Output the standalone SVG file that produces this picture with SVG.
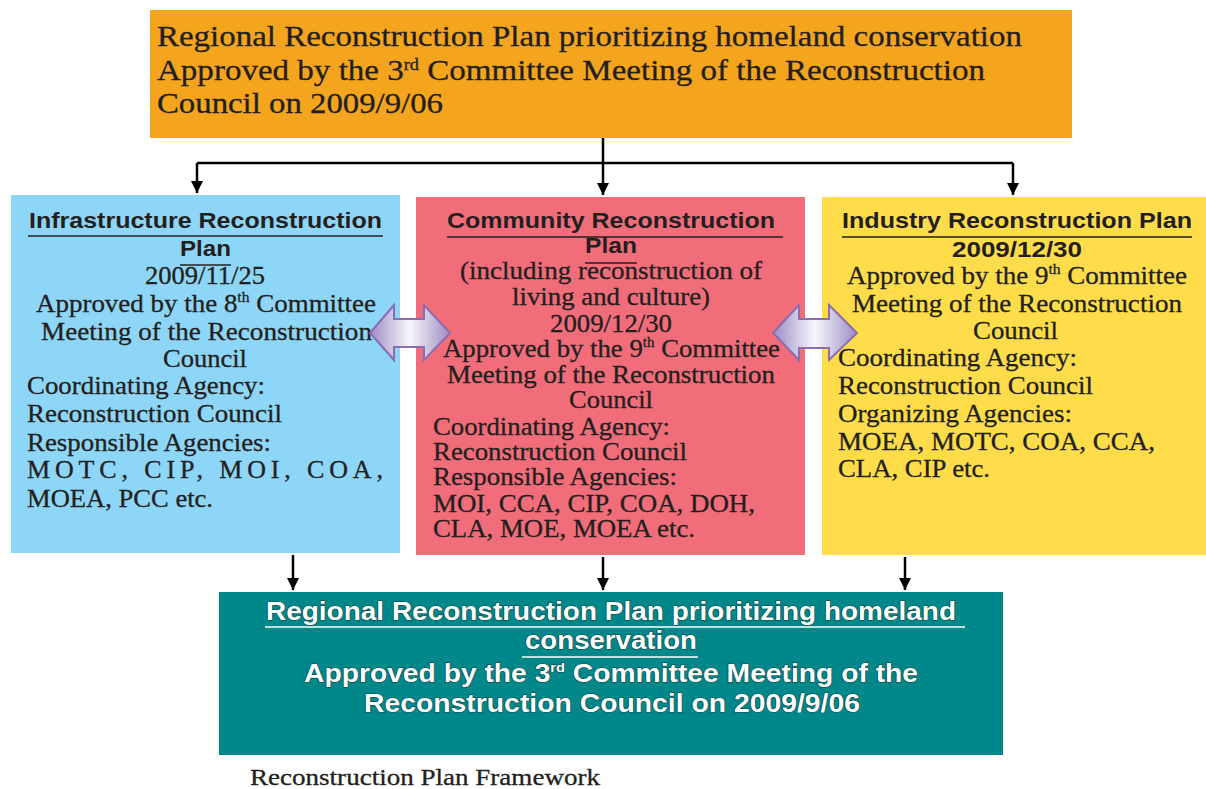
<svg xmlns="http://www.w3.org/2000/svg" width="1206" height="789" viewBox="0 0 1206 789">
  <style>
    .serif { font-family: "Liberation Serif", "Times New Roman", serif; fill: #231F20; stroke: #231F20; stroke-width: 0.3; }
    .sans { font-family: "Liberation Sans", Arial, sans-serif; font-weight: bold; fill: #231F20; }
    .body { font-size: 26px; }
    .tight { font-size: 25px; }
    .head { font-size: 22px; }
    .mid { text-anchor: middle; }
    .white { fill: #FFFFFF; stroke: #124546; stroke-width: 1.2; paint-order: stroke; }
    .ul { stroke: #231F20; stroke-width: 1.5; }
    .ulw { stroke: #FFFFFF; stroke-width: 1.5; }
    .conn { stroke: #000000; stroke-width: 2.5; fill: none; }
    .dbl { fill: url(#lav); stroke: #8A6DB0; stroke-width: 2; stroke-linejoin: miter; }
  </style>
  <defs>
    <marker id="tri" viewBox="0 0 10 10" refX="10" refY="5" markerWidth="5" markerHeight="5" orient="auto" markerUnits="strokeWidth">
      <path d="M0,0 L10,5 L0,10 Z" fill="#000000"/>
    </marker>
    <linearGradient id="lav" x1="0" y1="0" x2="1" y2="0">
      <stop offset="0" stop-color="#9C8CC4"/>
      <stop offset="0.5" stop-color="#F8F6FB"/>
      <stop offset="1" stop-color="#9C8CC4"/>
    </linearGradient>
  </defs>

  <rect width="1206" height="789" fill="#FFFFFF"/>

  <!-- top: regional plan -->
  <g id="regional-top">
    <rect x="150" y="10" width="922" height="128" fill="#F5A41D"/>
    <text class="serif" font-size="29" x="157" y="46" textLength="865" lengthAdjust="spacingAndGlyphs">Regional Reconstruction Plan prioritizing homeland conservation</text>
    <text class="serif" font-size="29" x="157" y="80" textLength="828" lengthAdjust="spacingAndGlyphs">Approved by the 3<tspan font-size="16" baseline-shift="60%">rd</tspan> Committee Meeting of the Reconstruction</text>
    <text class="serif" font-size="29" x="157" y="113" textLength="286" lengthAdjust="spacingAndGlyphs">Council on 2009/9/06</text>
  </g>

  <!-- left: infrastructure -->
  <g id="infrastructure">
    <rect x="11" y="195" width="389" height="358" fill="#8ED6F7"/>
    <text class="sans head" x="29" y="228" textLength="353" lengthAdjust="spacingAndGlyphs">Infrastructure Reconstruction</text>
    <line class="ul" x1="28" y1="236" x2="383" y2="236"/>
    <text class="sans head" x="180" y="256" textLength="51" lengthAdjust="spacingAndGlyphs">Plan</text>
    <line class="ul" x1="180" y1="265" x2="231" y2="265"/>
    <text class="serif body" x="145" y="284" textLength="120" lengthAdjust="spacingAndGlyphs">2009/11/25</text>
    <text class="serif body" x="36" y="312" textLength="340" lengthAdjust="spacingAndGlyphs">Approved by the 8<tspan font-size="15" baseline-shift="70%">th</tspan> Committee</text>
    <text class="serif body" x="41" y="340" textLength="331" lengthAdjust="spacingAndGlyphs">Meeting of the Reconstruction</text>
    <text class="serif body" x="163" y="367" textLength="84" lengthAdjust="spacingAndGlyphs">Council</text>
    <text class="serif body" x="27" y="394" textLength="238" lengthAdjust="spacingAndGlyphs">Coordinating Agency:</text>
    <text class="serif body" x="27" y="422" textLength="255" lengthAdjust="spacingAndGlyphs">Reconstruction Council</text>
    <text class="serif body" x="27" y="451" textLength="244" lengthAdjust="spacingAndGlyphs">Responsible Agencies:</text>
    <text class="serif body" x="27" y="478" textLength="356">MOTC, CIP, MOI, COA,</text>
    <text class="serif body" x="27" y="507" textLength="186" lengthAdjust="spacingAndGlyphs">MOEA, PCC etc.</text>
  </g>

  <!-- middle: community -->
  <g id="community">
    <rect x="416" y="197" width="389" height="358" fill="#F16D7A"/>
    <text class="sans head" x="447" y="228" textLength="328" lengthAdjust="spacingAndGlyphs">Community Reconstruction</text>
    <line class="ul" x1="447" y1="237" x2="783" y2="237"/>
    <text class="sans head" x="585" y="253" textLength="52" lengthAdjust="spacingAndGlyphs">Plan</text>
    <line class="ul" x1="585" y1="263" x2="637" y2="263"/>
    <text class="serif tight" x="460" y="279" textLength="302" lengthAdjust="spacingAndGlyphs">(including reconstruction of</text>
    <text class="serif tight" x="512" y="305" textLength="198" lengthAdjust="spacingAndGlyphs">living and culture)</text>
    <text class="serif tight" x="550" y="332" textLength="122" lengthAdjust="spacingAndGlyphs">2009/12/30</text>
    <text class="serif tight" x="443" y="357" textLength="337" lengthAdjust="spacingAndGlyphs">Approved by the 9<tspan font-size="14" baseline-shift="70%">th</tspan> Committee</text>
    <text class="serif tight" x="447" y="383" textLength="328" lengthAdjust="spacingAndGlyphs">Meeting of the Reconstruction</text>
    <text class="serif tight" x="569" y="408" textLength="84" lengthAdjust="spacingAndGlyphs">Council</text>
    <text class="serif tight" x="433" y="435" textLength="237" lengthAdjust="spacingAndGlyphs">Coordinating Agency:</text>
    <text class="serif tight" x="433" y="460" textLength="254" lengthAdjust="spacingAndGlyphs">Reconstruction Council</text>
    <text class="serif tight" x="433" y="485" textLength="244" lengthAdjust="spacingAndGlyphs">Responsible Agencies:</text>
    <text class="serif tight" x="433" y="512" textLength="322" lengthAdjust="spacingAndGlyphs">MOI, CCA, CIP, COA, DOH,</text>
    <text class="serif tight" x="433" y="537" textLength="262" lengthAdjust="spacingAndGlyphs">CLA, MOE, MOEA etc.</text>
  </g>

  <!-- right: industry -->
  <g id="industry">
    <rect x="822" y="197" width="384" height="358" fill="#FEDC4A"/>
    <text class="sans head" x="842" y="228" textLength="350" lengthAdjust="spacingAndGlyphs">Industry Reconstruction Plan</text>
    <line class="ul" x1="842" y1="237" x2="1192" y2="237"/>
    <text class="sans head" x="952" y="257" textLength="130" lengthAdjust="spacingAndGlyphs">2009/12/30</text>
    <text class="serif body" x="847" y="284" textLength="340" lengthAdjust="spacingAndGlyphs">Approved by the 9<tspan font-size="15" baseline-shift="70%">th</tspan> Committee</text>
    <text class="serif body" x="852" y="312" textLength="330" lengthAdjust="spacingAndGlyphs">Meeting of the Reconstruction</text>
    <text class="serif tight" x="973" y="339" textLength="85" lengthAdjust="spacingAndGlyphs">Council</text>
    <text class="serif body" x="838" y="366" textLength="239" lengthAdjust="spacingAndGlyphs">Coordinating Agency:</text>
    <text class="serif body" x="838" y="394" textLength="255" lengthAdjust="spacingAndGlyphs">Reconstruction Council</text>
    <text class="serif body" x="838" y="422" textLength="234" lengthAdjust="spacingAndGlyphs">Organizing Agencies:</text>
    <text class="serif body" x="838" y="450" textLength="317" lengthAdjust="spacingAndGlyphs">MOEA, MOTC, COA, CCA,</text>
    <text class="serif body" x="838" y="477" textLength="152" lengthAdjust="spacingAndGlyphs">CLA, CIP etc.</text>
  </g>

  <!-- bottom: regional plan summary -->
  <g id="regional-bottom">
    <rect x="219" y="592" width="784" height="163" fill="#00878A"/>
    <text class="sans white" font-size="25" x="266" y="620" textLength="690" lengthAdjust="spacingAndGlyphs">Regional Reconstruction Plan prioritizing homeland</text>
    <line class="ulw" x1="265" y1="627" x2="965" y2="627"/>
    <text class="sans white" font-size="25" x="525" y="649" textLength="172" lengthAdjust="spacingAndGlyphs">conservation</text>
    <line class="ulw" x1="522" y1="657" x2="698" y2="657"/>
    <text class="sans white" font-size="25" x="304" y="682" textLength="614" lengthAdjust="spacingAndGlyphs">Approved by the 3<tspan font-size="13" baseline-shift="80%">rd</tspan> Committee Meeting of the</text>
    <text class="sans white" font-size="25" x="364" y="712" textLength="496" lengthAdjust="spacingAndGlyphs">Reconstruction Council on 2009/9/06</text>
  </g>

  <!-- caption -->
  <text class="serif" font-size="23" x="250" y="785" textLength="350" lengthAdjust="spacingAndGlyphs">Reconstruction Plan Framework</text>

  <!-- connectors -->
  <g id="connectors">
    <path class="conn" d="M603,138 V163"/>
    <path class="conn" d="M197,163 H1013"/>
    <path class="conn" d="M197,163 V193" marker-end="url(#tri)"/>
    <path class="conn" d="M603,163 V195" marker-end="url(#tri)"/>
    <path class="conn" d="M1013,163 V195" marker-end="url(#tri)"/>
    <path class="conn" d="M293,555 V590" marker-end="url(#tri)"/>
    <path class="conn" d="M603,557 V590" marker-end="url(#tri)"/>
    <path class="conn" d="M905,557 V590" marker-end="url(#tri)"/>
    <!-- two-way links between neighbouring plans -->
    <path class="dbl" d="M370,333 L394,305 L394,319 L424,319 L424,305 L450,333 L424,360 L424,347 L394,347 L394,360 Z"/>
    <path class="dbl" d="M773,333 L799,305 L799,319 L829,319 L829,305 L857,333 L829,360 L829,348 L799,348 L799,360 Z"/>
  </g>
</svg>
